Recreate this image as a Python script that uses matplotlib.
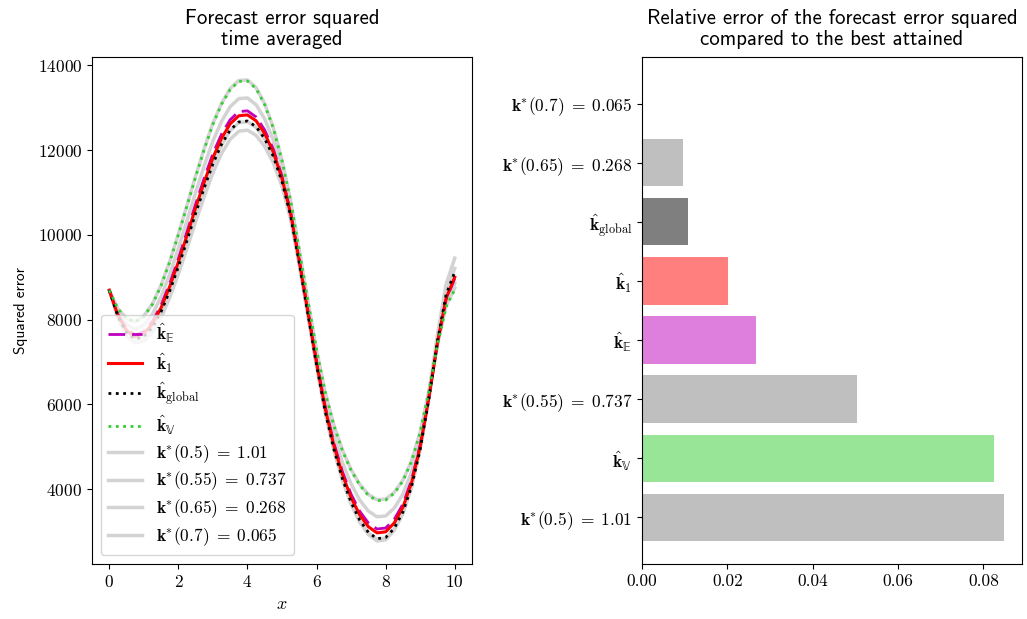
import matplotlib
matplotlib.use("Agg")
import matplotlib.pyplot as plt
import numpy as np

plt.rcParams['mathtext.fontset'] = 'cm'
plt.rcParams['axes.formatter.use_mathtext'] = True

# ---------------- data ----------------
x_vals = [i * 0.25 for i in range(41)]

err_kE = [8690, 8118, 7774, 7641, 7718, 7955, 8342, 8850, 9437, 10073, 10728, 11342, 11915, 12376,
          12717, 12907, 12926, 12781, 12472, 12017, 11380, 10536, 9410, 8211, 7016, 5946, 5086, 4407,
          3877, 3474, 3199, 3056, 3080, 3284, 3644, 4210, 5041, 6168, 7444, 8476, 8965]
err_k1 = [8690, 8100, 7740, 7600, 7670, 7900, 8280, 8780, 9360, 9990, 10640, 11250, 11820, 12280,
          12620, 12810, 12830, 12690, 12390, 11950, 11330, 10500, 9380, 8180, 6980, 5900, 5030, 4340,
          3800, 3390, 3110, 2965, 2990, 3200, 3570, 4150, 5000, 6150, 7450, 8500, 9000]
err_kglobal = [8690, 8073, 7690, 7539, 7598, 7817, 8186, 8676, 9245, 9866, 10509, 11111, 11678, 12136,
               12474, 12664, 12686, 12553, 12268, 11849, 11254, 10446, 9335, 8133, 6926, 5832, 4945, 4239,
               3685, 3264, 2977, 2828, 2855, 3074, 3458, 4060, 4939, 6123, 7490, 8590, 9120]
err_kV = [8690, 8250, 8020, 7940, 8070, 8360, 8800, 9360, 10000, 10680, 11370, 12020, 12610, 13080,
          13430, 13620, 13630, 13450, 13070, 12510, 11750, 10800, 9630, 8440, 7280, 6280, 5500, 4900,
          4440, 4090, 3850, 3725, 3740, 3900, 4190, 4650, 5340, 6300, 7400, 8300, 8710]
err_k050 = [8690, 8255, 8028, 7950, 8082, 8374, 8816, 9377, 10019, 10701, 11392, 12043, 12634, 13104,
            13454, 13644, 13654, 13473, 13090, 12527, 11763, 10809, 9638, 8448, 7289, 6291, 5514, 4917,
            4459, 4111, 3872, 3748, 3763, 3921, 4209, 4665, 5350, 6305, 7420, 8330, 8740]
err_k055 = [8690, 8175, 7880, 7770, 7870, 8130, 8540, 9070, 9680, 10335, 11005, 11635, 12215, 12680,
            13025, 13215, 13230, 13070, 12730, 12230, 11540, 10650, 9505, 8310, 7130, 6090, 5265, 4620,
            4120, 3740, 3480, 3345, 3365, 3550, 3880, 4400, 5170, 6225, 7425, 8400, 8855]
err_k065 = [8690, 8070, 7684, 7532, 7590, 7808, 8176, 8664, 9232, 9852, 10494, 11096, 11662, 12120,
            12458, 12648, 12670, 12538, 12254, 11838, 11246, 10440, 9330, 8128, 6920, 5824, 4936, 4228,
            3672, 3250, 2962, 2813, 2840, 3060, 3446, 4050, 4932, 6120, 7490, 8620, 9208]
err_k070 = [8690, 8032, 7614, 7447, 7490, 7693, 8046, 8519, 9072, 9679, 10311, 10903, 11464, 11920,
            12255, 12445, 12470, 12348, 12084, 11698, 11141, 10365, 9270, 8085, 6895, 5800, 4910, 4200,
            3640, 3215, 2925, 2775, 2802, 3025, 3420, 4040, 4970, 6230, 7650, 8830, 9450]

lab_k050 = r'$\mathbf{k}^{*}(0.5)\;=\;1.01$'
lab_k055 = r'$\mathbf{k}^{*}(0.55)\;=\;0.737$'
lab_k065 = r'$\mathbf{k}^{*}(0.65)\;=\;0.268$'
lab_k070 = r'$\mathbf{k}^{*}(0.7)\;=\;0.065$'
lab_kE = r'$\hat{\mathbf{k}}_{𝔼}$'
lab_kV = r'$\hat{\mathbf{k}}_{𝕍}$'
lab_k1 = r'$\hat{\mathbf{k}}_{1}$'
lab_kg = r'$\hat{\mathbf{k}}_{\mathrm{global}}$'

bar_labels = [lab_k050, lab_kV, lab_k055, lab_kE, lab_k1, lab_kg, lab_k065, lab_k070]
bar_values = [0.0848, 0.0824, 0.0504, 0.0268, 0.0202, 0.0108, 0.0096, 0.0]
bar_colors = ['gray', 'limegreen', 'gray', 'm', 'red', 'black', 'gray', 'gray']

# ---------------- figure ----------------
fig = plt.figure(figsize=(10.27, 6.19), dpi=100)
ax1 = fig.add_axes([0.0896, 0.0889, 0.3700, 0.8191])
ax2 = fig.add_axes([0.6251, 0.0889, 0.3700, 0.8191])

tick_fs = 12.5
sans = 'cmss10'
title_fs = 15

gray_lw = 2.5
h_k050, = ax1.plot(x_vals, err_k050, color='lightgray', lw=gray_lw, zorder=1, label=lab_k050)
h_k055, = ax1.plot(x_vals, err_k055, color='lightgray', lw=gray_lw, zorder=1, label=lab_k055)
h_k065, = ax1.plot(x_vals, err_k065, color='lightgray', lw=gray_lw, zorder=1, label=lab_k065)
h_k070, = ax1.plot(x_vals, err_k070, color='lightgray', lw=gray_lw, zorder=1, label=lab_k070)
h_kE, = ax1.plot(x_vals, err_kE, color='m', lw=2, dashes=(6, 2.5), zorder=2, label=lab_kE)
h_k1, = ax1.plot(x_vals, err_k1, color='red', lw=2.2, zorder=2, label=lab_k1)
h_kg, = ax1.plot(x_vals, err_kglobal, color='black', lw=2, ls=':', zorder=2, label=lab_kg)
h_kV, = ax1.plot(x_vals, err_kV, color='limegreen', lw=2, ls=':', zorder=2, label=lab_kV)

leg = ax1.legend(handles=[h_kE, h_k1, h_kg, h_kV, h_k050, h_k055, h_k065, h_k070],
                 loc='lower left', fontsize=12.5, labelspacing=0.3)

ax1.set_title('Forecast error squared\ntime averaged', fontsize=title_fs, family=sans,
              linespacing=1.12, pad=8.5)
ax1.set_ylabel('Squared error', fontsize=11, family=sans, labelpad=7)
ax1.set_xlabel(r'$x$', fontsize=13)
ax1.set_xticks([0, 2, 4, 6, 8, 10])
for lab in ax1.get_xticklabels() + ax1.get_yticklabels():
    lab.set_family('cmr10')
    lab.set_fontsize(tick_fs)

ypos = np.arange(len(bar_values))
ax2.barh(ypos, bar_values, height=0.8, color=bar_colors, alpha=0.5)
ax2.set_yticks(ypos)
ax2.set_yticklabels(bar_labels, fontsize=tick_fs)
ax2.set_title('Relative error of the forecast error squared\ncompared to the best attained',
              fontsize=title_fs, family=sans, linespacing=1.12, pad=8.5)
ax2.set_xticks([0.0, 0.02, 0.04, 0.06, 0.08])
ax2.set_xticklabels(['0.00', '0.02', '0.04', '0.06', '0.08'])
for lab in ax2.get_xticklabels():
    lab.set_family('cmr10')
    lab.set_fontsize(tick_fs)

fig.savefig('out.png', dpi=100)
